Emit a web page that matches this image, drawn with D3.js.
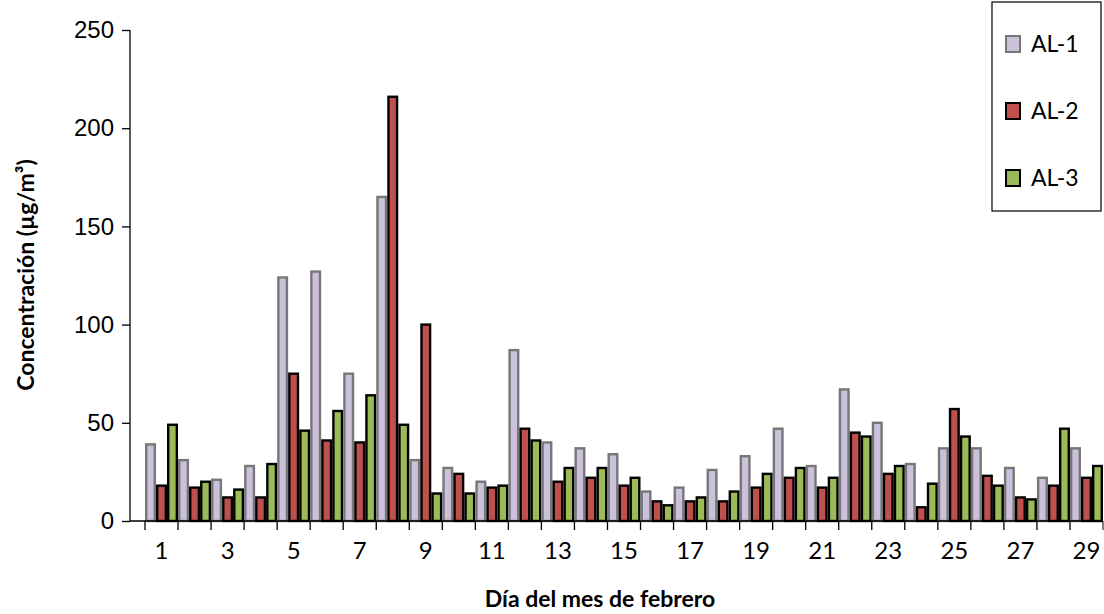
<!DOCTYPE html>
<html><head><meta charset="utf-8">
<script src="https://cdn.jsdelivr.net/npm/d3@7"></script>
<style>body{margin:0;background:#fff}svg{font-family:Lato,"Open Sans",sans-serif}</style>
</head><body><div id="chart"></div>
<script>
const days = d3.range(1, 30)
const seriesNames = ['AL-1', 'AL-2', 'AL-3']
const al1 = [39,31,21,28,124,127,75,165,31,27,20,87,40,37,34,15,17,26,33,47,28,67,50,29,37,37,27,22,37]
const al2 = [18,17,12,12,75,41,40,216,100,24,17,47,20,22,18,10,10,10,17,22,17,45,24,7,57,23,12,18,22]
const al3 = [49,20,16,29,46,56,64,49,14,14,18,41,27,27,22,8,12,15,24,27,22,43,28,19,43,18,11,47,28]
const yTicks = [0, 50, 100, 150, 200, 250]

const fills = ['#ccc1da', '#c0504d', '#9bbb59']
const strokes = ['#777', '#000', '#000']
const values = [al1, al2, al3]

const m = { axis: 130, left: 145, right: 1103, top: 30, bottom: 521 }
const svg = d3.select('#chart').append('svg').attr('width', 1104).attr('height', 614)

const x = d3.scaleBand().domain(days).range([m.left, m.right]).padding(0)
const xs = d3.scaleBand().domain(seriesNames).range([0, x.bandwidth()]).padding(0)
const y = d3.scaleLinear().domain([0, 250]).range([m.bottom, m.top])

const g = svg.append('g')
days.forEach((d, i) => {
  seriesNames.forEach((s, j) => {
    g.append('rect')
      .attr('x', x(d) + xs(s) + 1.2)
      .attr('y', y(values[j][i]))
      .attr('width', xs.bandwidth() - 2.4)
      .attr('height', y(0) - y(values[j][i]))
      .attr('fill', fills[j]).attr('stroke', strokes[j]).attr('stroke-width', 2.4)
  })
})

// y axis
const ya = svg.append('g').attr('transform', `translate(${m.axis},0)`)
  .call(d3.axisLeft(y).tickValues(yTicks).tickSize(8).tickPadding(8))
ya.selectAll('text').attr('font-size', 24).attr('fill', '#000')
ya.selectAll('line,path').attr('stroke', '#000').attr('stroke-width', 1.3)
ya.select('.domain').attr('d', `M0,${m.top}V${m.bottom}`)

// x axis
const xa = svg.append('g').attr('transform', `translate(0,${m.bottom})`)
xa.append('line').attr('x1', m.axis).attr('x2', m.right).attr('stroke', '#000').attr('stroke-width', 1.5)
days.forEach(d => {
  xa.append('line').attr('x1', x(d)).attr('x2', x(d)).attr('y2', 9).attr('stroke', '#000').attr('stroke-width', 1.3)
})
xa.append('line').attr('x1', m.right).attr('x2', m.right).attr('y2', 9).attr('stroke', '#000')
days.filter(d => d % 2 === 1).forEach(d => {
  xa.append('text').attr('x', x(d) + x.bandwidth() / 2).attr('y', 38)
    .attr('text-anchor', 'middle').attr('font-size', 24).text(d)
})

svg.append('text').attr('x', 600).attr('y', 607).attr('text-anchor', 'middle')
  .attr('font-size', 23).attr('font-weight', 'bold').text('Día del mes de febrero')
svg.append('text').attr('transform', 'translate(34,275) rotate(-90)').attr('text-anchor', 'middle')
  .attr('font-size', 23).attr('font-weight', 'bold').text('Concentración (µg/m³)')

// legend
const lg = svg.append('g')
lg.append('rect').attr('x', 992).attr('y', 2).attr('width', 109).attr('height', 209)
  .attr('fill', '#fff').attr('stroke', '#000').attr('stroke-width', 1.2)
seriesNames.forEach((s, j) => {
  const cy = 44 + j * 67
  lg.append('rect').attr('x', 1006).attr('y', cy - 8).attr('width', 14).attr('height', 16)
    .attr('fill', fills[j]).attr('stroke', strokes[j]).attr('stroke-width', 2)
  lg.append('text').attr('x', 1031).attr('y', cy + 8).attr('font-size', 23).text(s)
})
</script></body></html>
